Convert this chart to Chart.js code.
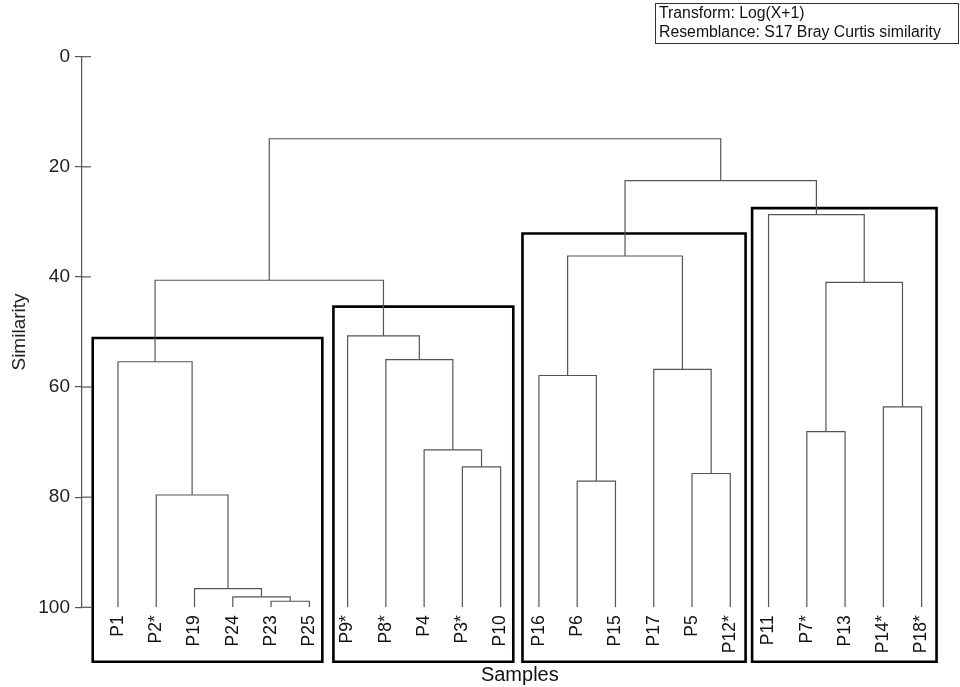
<!DOCTYPE html>
<html>
<head>
<meta charset="utf-8">
<script src="https://cdn.jsdelivr.net/npm/chart.js@4.4.1/dist/chart.umd.min.js"></script>
<style>
  html, body { margin: 0; padding: 0; background: #fff; }
  #wrap { width: 960px; height: 687px; position: relative; }
</style>
</head>
<body>
<div id="wrap"><canvas id="dendro"></canvas></div>
<script>
const samples = ["P1", "P2*", "P19", "P24", "P23", "P25", "P9*", "P8*", "P4", "P3*", "P10",
  "P16", "P6", "P15", "P17", "P5", "P12*", "P11", "P7*", "P13", "P14*", "P18*"];

// merge steps: a number is a sample index, "m#" points to an earlier merge
const mergeLeft = [4, 3, 2, 1, 0, 9, 8, 7, 6, "m4", 12, 11, 15, 14, "m11", 18, 20, "m15", 17, "m14", "m9"];
const mergeRight = [5, "m0", "m1", "m2", "m3", 10, "m5", "m6", "m7", "m8", 13, "m10", 16, "m12", "m13", 19, 21, "m16", "m17", "m18", "m19"];
const mergeSimilarity = [98.9, 98.1, 96.6, 79.6, 55.4, 74.5, 71.4, 55.0, 50.7, 40.6,
  77.1, 57.9, 75.7, 56.8, 36.2, 68.1, 63.6, 41.0, 28.7, 22.5, 14.9];

const yTicks = [0, 20, 40, 60, 80, 100];

// group boxes, x in sample index units, y in similarity
const groupLeft = [-0.66, 5.63, 10.57, 16.57];
const groupRight = [5.34, 10.33, 16.40, 21.39];
const groupTop = [51.1, 45.4, 32.1, 27.5];
const groupBottom = [109.9, 109.9, 109.9, 109.9];

const infoLines = ["Transform: Log(X+1)", "Resemblance: S17 Bray Curtis similarity"];

const FONT = "'Liberation Sans', Arial, sans-serif";

const nodes = [];
function nodeOf(ref) {
  if (typeof ref === "number") return { x: ref, y: 100 };
  return nodes[+ref.slice(1)];
}

const linkSets = mergeSimilarity.map((h, i) => {
  const a = nodeOf(mergeLeft[i]);
  const b = nodeOf(mergeRight[i]);
  nodes.push({ x: (a.x + b.x) / 2, y: h });
  return {
    data: [{ x: a.x, y: a.y }, { x: a.x, y: h }, { x: b.x, y: h }, { x: b.x, y: b.y }],
    borderColor: "#555",
    borderWidth: 1.2,
    showLine: true,
  };
});

const boxSets = groupLeft.map((x0, i) => {
  const x1 = groupRight[i], t = groupTop[i], b = groupBottom[i];
  const mid = (x0 + x1) / 2;
  return {
    data: [{ x: mid, y: t }, { x: x1, y: t }, { x: x1, y: b }, { x: x0, y: b }, { x: x0, y: t }, { x: mid, y: t }],
    borderColor: "#000",
    borderWidth: 2.6,
    showLine: true,
    clip: false,
  };
});

// tick marks cross the y axis line
const tickCross = {
  id: "tickCross",
  afterDraw(chart) {
    const y = chart.scales.y, ctx = chart.ctx, left = chart.chartArea.left;
    ctx.save();
    ctx.strokeStyle = "#555";
    ctx.lineWidth = 1.2;
    yTicks.forEach(v => {
      const py = y.getPixelForValue(v);
      ctx.beginPath();
      ctx.moveTo(left, py);
      ctx.lineTo(left + 9, py);
      ctx.stroke();
    });
    ctx.restore();
  },
};

const infoBox = {
  id: "infoBox",
  afterDraw(chart) {
    const ctx = chart.ctx;
    ctx.save();
    ctx.strokeStyle = "#333";
    ctx.lineWidth = 1;
    ctx.strokeRect(655.5, 3.5, 303, 40);
    ctx.fillStyle = "#111";
    ctx.font = "15.8px " + FONT;
    ctx.textBaseline = "middle";
    ctx.fillText(infoLines[0], 659, 13.5);
    ctx.fillText(infoLines[1], 659, 33);
    ctx.restore();
  },
};

new Chart(document.getElementById("dendro"), {
  type: "scatter",
  data: { datasets: [...linkSets, ...boxSets] },
  options: {
    responsive: true,
    maintainAspectRatio: false,
    animation: false,
    layout: { padding: { top: 56.7, right: 2.4, bottom: 0, left: 0 } },
    plugins: { legend: { display: false }, tooltip: { enabled: false } },
    elements: {
      point: { radius: 0, hoverRadius: 0 },
      line: { tension: 0, borderJoinStyle: "miter" },
    },
    scales: {
      x: {
        type: "linear",
        min: -0.94,
        max: 21.94,
        grid: { display: false, drawTicks: false },
        border: { display: false },
        afterBuildTicks: s => { s.ticks = samples.map((_, i) => ({ value: i })); },
        afterFit: s => { s.height = 79.7; },
        ticks: {
          autoSkip: false,
          minRotation: 90,
          maxRotation: 90,
          padding: 8,
          color: "#111",
          font: { family: FONT, size: 17.5 },
          callback: v => samples[v],
        },
        title: {
          display: true,
          text: "Samples",
          color: "#111",
          font: { family: FONT, size: 20 },
          padding: { top: 0, bottom: 0 },
        },
      },
      y: {
        type: "linear",
        reverse: true,
        min: 0,
        max: 100,
        afterBuildTicks: s => { s.ticks = yTicks.map(v => ({ value: v })); },
        afterFit: s => { s.width = 82; },
        grid: { drawOnChartArea: false, tickLength: 7, color: "#555", lineWidth: 1.2 },
        border: { color: "#555", width: 1.2 },
        ticks: { padding: 5, color: "#222", font: { family: FONT, size: 19 } },
        title: {
          display: true,
          text: "Similarity",
          color: "#222",
          font: { family: FONT, size: 19 },
          padding: { top: 8, bottom: 0 },
        },
      },
    },
  },
  plugins: [tickCross, infoBox],
});
</script>
</body>
</html>
